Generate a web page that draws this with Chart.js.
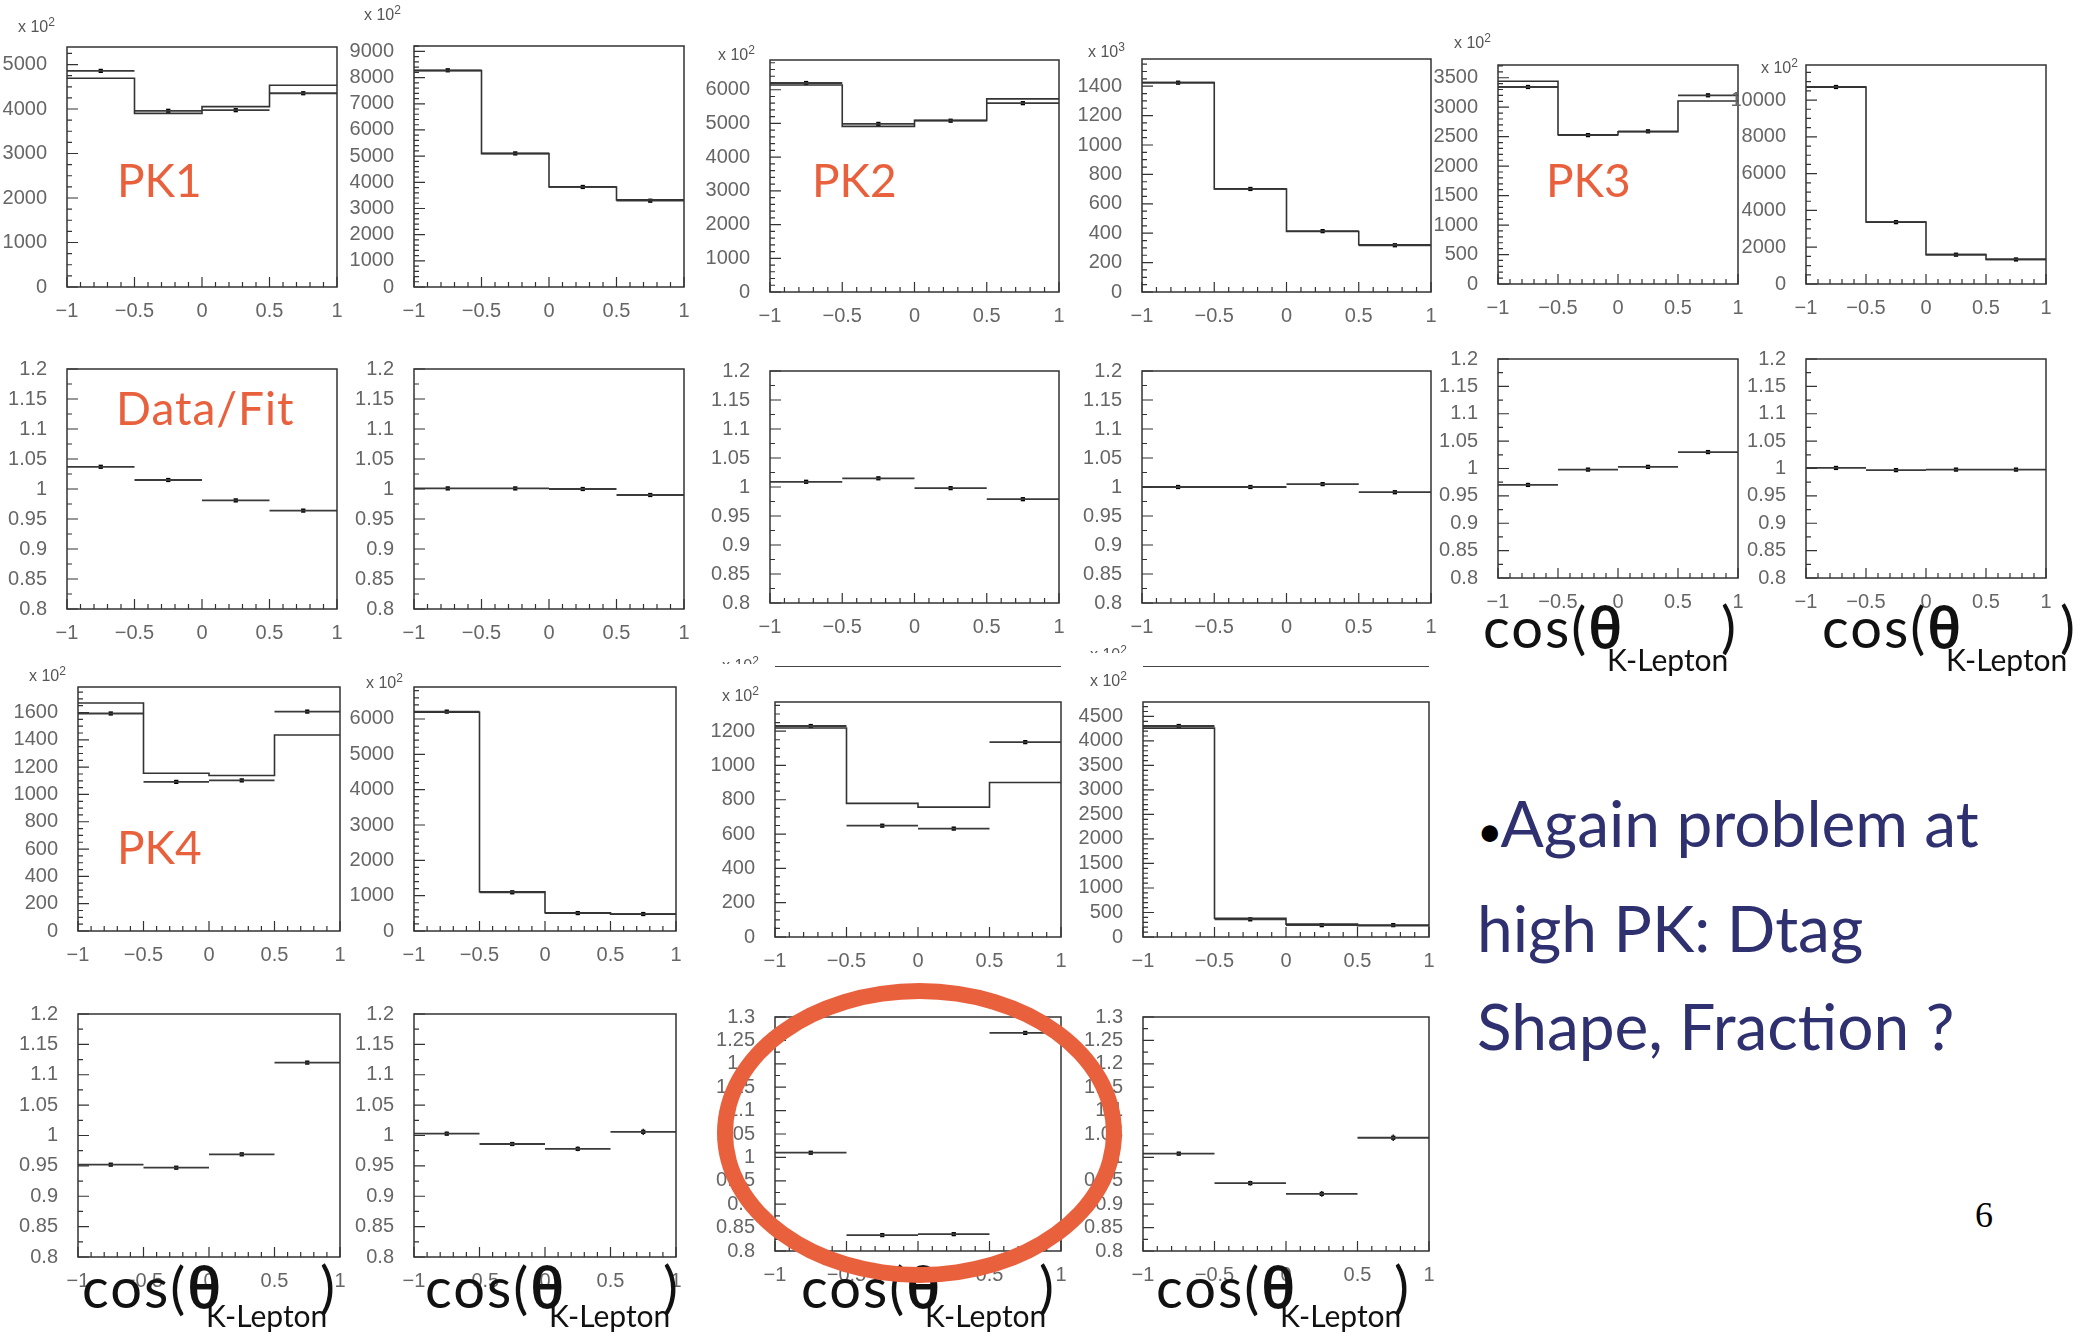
<!DOCTYPE html>
<html>
<head>
<meta charset="utf-8">
<script src="https://cdn.jsdelivr.net/npm/chart.js@4.4.0/dist/chart.umd.min.js"></script>
<style>
  html, body { margin: 0; padding: 0; background: #fff; }
  #page { position: relative; width: 2083px; height: 1337px; overflow: hidden; background: #fff; }
  canvas { position: absolute; }
  .hand { position: absolute; font-family: Lato, "Noto Sans", sans-serif; font-size: 46px; line-height: 1; color: #e9603d; z-index: 5; }
  .mult { position: absolute; font-family: "Liberation Sans", Arial, sans-serif; font-size: 16px; line-height: 1; color: #555; z-index: 5; }
  .mult sup { font-size: 12px; }
  .cos { position: absolute; font-family: Lato, "DejaVu Sans", sans-serif; font-size: 56px; line-height: 1; color: #111; letter-spacing: 2px; z-index: 5; }
  .cos b { font-family: "Noto Sans", "DejaVu Sans", sans-serif; font-weight: 600; font-size: 56px; }
  .sub { position: absolute; font-family: Lato, sans-serif; font-size: 30px; line-height: 1; color: #111; z-index: 5; }
  .note { position: absolute; left: 1477px; top: 774px; font-family: Lato, "Noto Sans", sans-serif; font-size: 64px; line-height: 98px; color: #2e3070; z-index: 5; white-space: nowrap; }
  .note .dot { color: #000; font-size: 44px; margin-right: -2px; }
  .extra { position: absolute; height: 0; border-top: 1.5px solid #444; z-index: 4; }
  .ring { position: absolute; left: 717px; top: 983px; width: 373px; height: 268px; border: 16px solid #e9603d; border-radius: 50%; z-index: 6; }
</style>
</head>
<body>
<div id="page">
  <div class="hand" style="left:117px;top:157px">PK1</div>
  <div class="hand" style="left:812px;top:157px">PK2</div>
  <div class="hand" style="left:1546px;top:157px">PK3</div>
  <div class="hand" style="left:116px;top:385px;letter-spacing:1px">Data/Fit</div>
  <div class="hand" style="left:117px;top:824px">PK4</div>

  <div class="mult" style="left:18px;top:16px">x 10<sup>2</sup></div>
  <div class="mult" style="left:364px;top:4px">x 10<sup>2</sup></div>
  <div class="mult" style="left:718px;top:44px">x 10<sup>2</sup></div>
  <div class="mult" style="left:1088px;top:41px">x 10<sup>3</sup></div>
  <div class="mult" style="left:1454px;top:32px">x 10<sup>2</sup></div>
  <div class="mult" style="left:1761px;top:57px">x 10<sup>2</sup></div>
  <div class="mult" style="left:29px;top:665px">x 10<sup>2</sup></div>
  <div class="mult" style="left:366px;top:672px">x 10<sup>2</sup></div>
  <div class="mult" style="left:722px;top:685px">x 10<sup>2</sup></div>
  <div class="mult" style="left:1090px;top:670px">x 10<sup>2</sup></div>
  <div class="mult" style="left:722px;top:655px;height:9px;overflow:hidden">x 10<sup>2</sup></div>
  <div class="mult" style="left:1090px;top:644px;height:9px;overflow:hidden">x 10<sup>2</sup></div>
  <div class="extra" style="left:775px;top:666px;width:286px"></div>
  <div class="extra" style="left:1143px;top:666px;width:286px"></div>

  <div class="note"><span class="dot">•</span>Again problem at<br>high PK: Dtag<br>Shape, Fraction ?</div>
  <div style="position:absolute;left:1975px;top:1197px;font-family:'Liberation Serif',serif;font-size:36px;line-height:1;color:#000">6</div>
  <div class="ring"></div>
</div>
<script>
// bins of cos(theta K-Lepton)
const edges = [-1, -0.5, 0, 0.5, 1];
const centers = [-0.75, -0.25, 0.25, 0.75];
const xTickValues = [-1, -0.5, 0, 0.5, 1];

// PK1 (counts are in units of 10^2)
const pk1aData = [4857, 3960, 3974, 4355];
const pk1aFit = [4692, 3903, 4053, 4534];
const pk1bData = [8280, 5104, 3822, 3297];
const pk1bFit = [8268, 5097, 3821, 3330];
const pk1aRatio = [1.037, 1.015, 0.981, 0.964];
const pk1bRatio = [1.001, 1.001, 1.000, 0.990];

// PK2
const pk2aData = [6199, 4986, 5081, 5602];
const pk2aFit = [6140, 4912, 5090, 5728];
const pk2bData = [1424, 701, 414, 318];   // x 10^3
const pk2bFit = [1424, 701, 412, 321];
const pk2aRatio = [1.009, 1.015, 0.998, 0.979];
const pk2bRatio = [1.000, 1.000, 1.005, 0.991];

// PK3
const pk3aData = [3343, 2526, 2591, 3202];
const pk3aFit = [3439, 2532, 2583, 3105];
const pk3bData = [10710, 3362, 1594, 1334];
const pk3bFit = [10704, 3374, 1597, 1337];
const pk3aRatio = [0.970, 0.998, 1.003, 1.030];
const pk3bRatio = [1.001, 0.997, 0.998, 0.998];

// PK4
const pk4aData = [1593, 1092, 1103, 1607];
const pk4aFit = [1670, 1155, 1139, 1436];
const pk4bData = [6208, 1095, 507, 480];
const pk4bFit = [6190, 1109, 518, 478];
const pk4aRatio = [0.952, 0.947, 0.969, 1.120];
const pk4bRatio = [1.003, 0.986, 0.978, 1.006];
const pk4aErr = [0.002, 0.002, 0.002, 0.002];
const pk4bErr = [0.003, 0.003, 0.004, 0.005];

// highest PK
const pk5aData = [1230, 649, 632, 1136];
const pk5aFit = [1218, 779, 757, 901];
const pk5bData = [4304, 360, 242, 242];
const pk5bFit = [4261, 381, 262, 232];
const pk5aRatio = [1.010, 0.834, 0.836, 1.266];
const pk5bRatio = [1.008, 0.945, 0.922, 1.042];
const pk5aErr = [0.003, 0.003, 0.003, 0.003];
const pk5bErr = [0.004, 0.005, 0.006, 0.007];

const YW = 78, PT = 14, PR = 14, XH = 32;

// box = [left, top, right, bottom] of the frame on the page; y = [min, max, label step]
const panels = [
  { box: [67, 37, 337, 287], data: pk1aData, fit: pk1aFit, y: [0, 5394, 1000], sub: 4 },
  { box: [414, 36, 684, 287], data: pk1bData, fit: pk1bFit, y: [0, 9208, 1000], sub: 5 },
  { box: [770, 50, 1059, 292], data: pk2aData, fit: pk2aFit, y: [0, 6882, 1000], sub: 5 },
  { box: [1142, 49, 1431, 292], data: pk2bData, fit: pk2bFit, y: [0, 1585, 200], sub: 4 },
  { box: [1498, 55, 1738, 284], data: pk3aData, fit: pk3aFit, y: [0, 3716, 500], sub: 5 },
  { box: [1806, 55, 2046, 284], data: pk3bData, fit: pk3bFit, y: [0, 11906, 2000], sub: 4 },

  { box: [67, 359, 337, 609], data: pk1aRatio, y: [0.8, 1.2, 0.05], sub: 2 },
  { box: [414, 359, 684, 609], data: pk1bRatio, y: [0.8, 1.2, 0.05], sub: 2 },
  { box: [770, 361, 1059, 603], data: pk2aRatio, y: [0.8, 1.2, 0.05], sub: 2 },
  { box: [1142, 361, 1431, 603], data: pk2bRatio, y: [0.8, 1.2, 0.05], sub: 2 },
  { box: [1498, 349, 1738, 578], data: pk3aRatio, y: [0.8, 1.2, 0.05], sub: 2 },
  { box: [1806, 349, 2046, 578], data: pk3bRatio, y: [0.8, 1.2, 0.05], sub: 2 },

  { box: [78, 677, 340, 931], data: pk4aData, fit: pk4aFit, y: [0, 1787, 200], sub: 4 },
  { box: [414, 677, 676, 931], data: pk4bData, fit: pk4bFit, y: [0, 6905, 1000], sub: 5 },
  { box: [775, 692, 1061, 937], data: pk5aData, fit: pk5aFit, y: [0, 1370, 200], sub: 4 },
  { box: [1143, 692, 1429, 937], data: pk5bData, fit: pk5bFit, y: [0, 4794, 500], sub: 5 },

  { box: [78, 1004, 340, 1257], data: pk4aRatio, err: pk4aErr, y: [0.8, 1.2, 0.05], sub: 2 },
  { box: [414, 1004, 676, 1257], data: pk4bRatio, err: pk4bErr, y: [0.8, 1.2, 0.05], sub: 2 },
  { box: [775, 1007, 1061, 1251], data: pk5aRatio, err: pk5aErr, y: [0.8, 1.3, 0.05], sub: 2 },
  { box: [1143, 1007, 1429, 1251], data: pk5bRatio, err: pk5bErr, y: [0.8, 1.3, 0.05], sub: 2 }
];

// ROOT style frame with ticks pointing inwards
const rootAxes = {
  id: 'rootAxes',
  afterDraw(chart, args, opts) {
    const { ctx, chartArea: a, scales: { x, y } } = chart;
    ctx.save();
    ctx.strokeStyle = '#333';
    ctx.lineWidth = 1.2;
    ctx.beginPath();
    for (let k = 0; k <= 20; k++) {
      const px = x.getPixelForValue(-1 + k * 0.1);
      const len = k % 5 === 0 ? 10 : 5;
      ctx.moveTo(px, a.bottom);
      ctx.lineTo(px, a.bottom - len);
    }
    const minor = opts.step / opts.sub;
    for (let k = 0; y.min + k * minor <= y.max + 1e-9; k++) {
      const py = y.getPixelForValue(y.min + k * minor);
      const len = k % opts.sub === 0 ? 11 : 5;
      ctx.moveTo(a.left, py);
      ctx.lineTo(a.left + len, py);
    }
    ctx.stroke();
    ctx.lineWidth = 1.5;
    ctx.strokeRect(a.left, a.top, a.right - a.left, a.bottom - a.top);
    ctx.restore();
  }
};

function stepLine(vals) {
  return edges.map((e, i) => ({ x: e, y: vals[Math.min(i, vals.length - 1)] }));
}
function binBars(vals) {
  const pts = [];
  vals.forEach((v, i) => {
    pts.push({ x: edges[i], y: v }, { x: edges[i + 1], y: v }, { x: edges[i + 1], y: null });
  });
  return pts;
}
function errBars(vals, errs) {
  const pts = [];
  vals.forEach((v, i) => {
    pts.push({ x: centers[i], y: v - errs[i] }, { x: centers[i], y: v + errs[i] }, { x: centers[i], y: null });
  });
  return pts;
}
function yTicks(min, max, step) {
  const out = [];
  for (let k = 0; min + k * step <= max + 1e-9; k++) out.push({ value: Math.round((min + k * step) * 1000) / 1000 });
  return out;
}

const tickFont = { family: 'Liberation Sans, Arial, sans-serif', size: 20 };
const fmtX = v => (v < 0 ? '\u2212' + Math.abs(v) : String(v));
const fmtY = v => String(Math.round(v * 100) / 100);

function makePanel(p) {
  const [L, T, R, B] = p.box;
  const W = R - L + YW + PR, H = B - T + PT + XH;
  const cv = document.createElement('canvas');
  cv.width = W; cv.height = H;
  cv.style.left = (L - YW) + 'px';
  cv.style.top = (T - PT) + 'px';
  cv.style.width = W + 'px';
  cv.style.height = H + 'px';
  document.getElementById('page').appendChild(cv);

  const datasets = [];
  if (p.fit) {
    datasets.push({ data: stepLine(p.fit), stepped: 'before', borderColor: '#333', borderWidth: 1.6, pointRadius: 0 });
  }
  datasets.push({ data: binBars(p.data), borderColor: '#3a3a3a', borderWidth: 1.8, pointRadius: 0, spanGaps: false });
  if (p.err) {
    datasets.push({ data: errBars(p.data, p.err), borderColor: '#222', borderWidth: 1.5, pointRadius: 0, spanGaps: false });
  }
  datasets.push({
    data: centers.map((c, i) => ({ x: c, y: p.data[i] })),
    showLine: false, pointStyle: 'rect', pointRadius: 3,
    pointBackgroundColor: '#000', pointBorderWidth: 0
  });

  new Chart(cv, {
    type: 'line',
    data: { datasets: datasets },
    options: {
      responsive: false,
      animation: false,
      events: [],
      layout: { padding: { left: 0, top: PT, right: PR, bottom: 0 } },
      plugins: { legend: { display: false }, tooltip: { enabled: false }, rootAxes: { sub: p.sub, step: p.y[2] } },
      scales: {
        x: {
          type: 'linear', min: -1, max: 1,
          grid: { display: false }, border: { display: false },
          afterBuildTicks: s => { s.ticks = xTickValues.map(v => ({ value: v })); },
          ticks: { callback: fmtX, font: tickFont, color: '#666', padding: 4, maxRotation: 0, autoSkip: false },
          afterFit: s => { s.height = XH; }
        },
        y: {
          type: 'linear', min: p.y[0], max: p.y[1],
          grid: { display: false }, border: { display: false },
          afterBuildTicks: s => { s.ticks = yTicks(p.y[0], p.y[1], p.y[2]); },
          ticks: { callback: fmtY, font: tickFont, color: '#666', padding: 12, autoSkip: false },
          afterFit: s => { s.width = YW; }
        }
      }
    },
    plugins: [rootAxes]
  });
}

panels.forEach(makePanel);

// cos(theta_K-Lepton) axis captions
const captions = [[1483, 598, 644], [1822, 598, 644], [82, 1258, 1300], [425, 1258, 1300], [801, 1258, 1300], [1156, 1258, 1300]];
captions.forEach(([x, top, subTop]) => {
  const page = document.getElementById('page');
  const a = document.createElement('div');
  a.className = 'cos';
  a.style.left = x + 'px'; a.style.top = top + 'px';
  a.innerHTML = 'cos(<b>θ</b>';
  const b = document.createElement('div');
  b.className = 'sub';
  b.style.left = (x + 124) + 'px'; b.style.top = subTop + 'px';
  b.textContent = 'K-Lepton';
  const c = document.createElement('div');
  c.className = 'cos';
  c.style.left = (x + 238) + 'px'; c.style.top = top + 'px';
  c.textContent = ')';
  page.appendChild(a); page.appendChild(b); page.appendChild(c);
});
</script>
</body>
</html>
